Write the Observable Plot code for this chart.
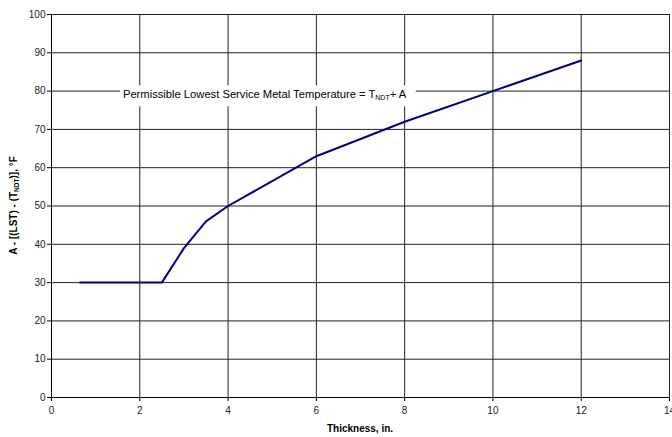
<!DOCTYPE html>
<html><head><meta charset="utf-8">
<script src="https://cdn.jsdelivr.net/npm/d3@7"></script>
<script src="https://cdn.jsdelivr.net/npm/@observablehq/plot@0.6"></script>
<style>
body{margin:0;background:#fff}
svg{font-family:Arial,"Liberation Sans",sans-serif}
</style>
</head><body><div id="chart"></div>
<script>
// Data
const thickness = [0.65, 2.5, 3, 3.5, 4, 6, 8, 10, 12];
const aValue    = [30, 30, 39, 46, 50, 63, 72, 80, 88];
const xTicks = [0, 2, 4, 6, 8, 10, 12, 14];
const yTicks = [0, 10, 20, 30, 40, 50, 60, 70, 80, 90, 100];
const xLabel = "Thickness, in.";
const annotationX = [1.63];
const annotationY = [79];

const data = thickness.map((t, i) => ({t, a: aValue[i]}));

const plot = Plot.plot({
  width: 672, height: 437,
  marginLeft: 51, marginRight: 3, marginTop: 14, marginBottom: 40,
  style: {fontFamily: "Arial, 'Liberation Sans', sans-serif", fontSize: "10px", color: "#000", background: "#fff"},
  x: {domain: [0, 14], label: null},
  y: {domain: [0, 100], label: null},
  marks: [
    Plot.gridX(xTicks, {stroke: "#222", strokeOpacity: 1}),
    Plot.gridY(yTicks, {stroke: "#222", strokeOpacity: 1}),
    Plot.ruleX([0], {stroke: "#000"}),
    Plot.ruleY([0], {stroke: "#000"}),
    Plot.axisX(xTicks, {tickSize: 4, tickPadding: 5, label: null, fill: "#222"}),
    Plot.axisY(yTicks, {tickSize: 4, tickPadding: 2, label: null, fill: "#222"}),
    Plot.line(data, {x: "t", y: "a", stroke: "#000080", strokeWidth: 2})
  ]
});
document.getElementById("chart").appendChild(plot);

const svg = d3.select(plot);
const xs = plot.scale("x"), ys = plot.scale("y");

// annotation with white background box
const ann = svg.append("text")
  .attr("x", xs.apply(annotationX[0]))
  .attr("y", ys.apply(annotationY[0]))
  .attr("dy", "0.35em")
  .attr("text-anchor", "start")
  .attr("font-size", 11.2)
  .attr("fill", "#000");
ann.append("tspan").text("Permissible Lowest Service Metal Temperature = T");
ann.append("tspan").attr("font-size", 7).attr("dy", 2).text("NDT");
ann.append("tspan").attr("dy", -2).text("+ A");
const bb = ann.node().getBBox();
svg.append("rect")
  .attr("x", bb.x - 3).attr("y", bb.y - 3)
  .attr("width", bb.width + 12).attr("height", bb.height + 8)
  .attr("fill", "#fff");
ann.raise();

// x axis label
svg.append("text")
  .attr("x", (xs.range[0] + xs.range[1]) / 2)
  .attr("y", 432)
  .attr("text-anchor", "middle")
  .attr("font-weight", "bold")
  .attr("font-size", 10)
  .text(xLabel);

// y axis label
const yl = svg.append("text")
  .attr("transform", `translate(16.5,${(ys.range[0] + ys.range[1]) / 2}) rotate(-90)`)
  .attr("text-anchor", "middle")
  .attr("font-weight", "bold")
  .attr("font-size", 10);
yl.append("tspan").text("A - [(LST) - (T");
yl.append("tspan").attr("font-size", 6.5).attr("dy", 2).text("NDT");
yl.append("tspan").attr("dy", -2).text(")], °F");
</script>
</body></html>
